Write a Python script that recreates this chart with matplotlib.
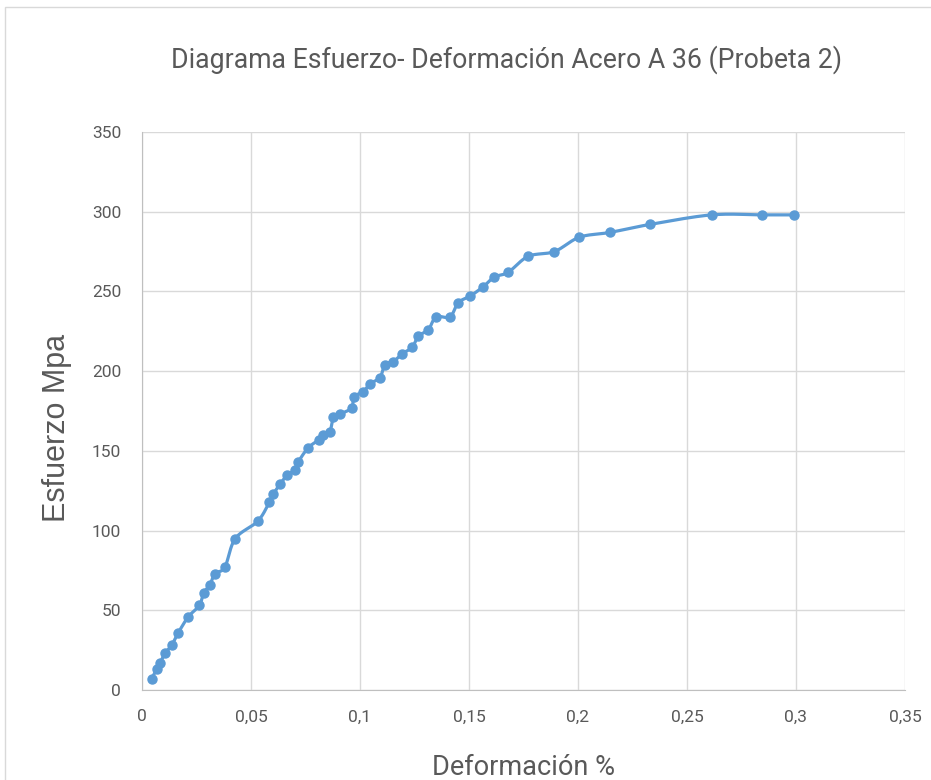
import numpy as np
import matplotlib.pyplot as plt
from matplotlib.ticker import FuncFormatter
from matplotlib.patches import Rectangle

# deformacion (%) y esfuerzo (MPa)
deformacion = [0.0044, 0.0067, 0.0083, 0.0106, 0.0136, 0.0167, 0.0213, 0.0263, 0.0284,
               0.0312, 0.0335, 0.038, 0.0428, 0.0532, 0.0585, 0.0603, 0.0633, 0.0667,
               0.0702, 0.0717, 0.0763, 0.0813, 0.0832, 0.0862, 0.0878, 0.0908, 0.0962,
               0.0972, 0.1015, 0.1046, 0.1092, 0.1114, 0.1153, 0.1195, 0.124, 0.1268,
               0.1314, 0.1349, 0.1413, 0.1451, 0.1505, 0.1566, 0.1616, 0.168, 0.1772,
               0.1892, 0.2007, 0.2147, 0.233, 0.2613, 0.2846, 0.2991]
esfuerzo = [7, 13, 17, 23, 28, 36, 46, 53, 61,
            66, 73, 77, 95, 106, 118, 123, 129, 135,
            138, 143, 152, 157, 160, 162, 171, 173, 177,
            184, 187, 192, 196, 204, 206, 211, 215, 222,
            226, 234, 234, 243, 247, 253, 259, 262, 272,
            275, 284, 287, 292, 298, 298, 298]

titulo = "Diagrama Esfuerzo- Deformación Acero A 36 (Probeta 2)"
xticks = [0, 0.05, 0.1, 0.15, 0.2, 0.25, 0.3, 0.35]
yticks = [0, 50, 100, 150, 200, 250, 300, 350]

plt.rcParams['font.family'] = ['Roboto', 'DejaVu Sans']


def suavizar(x, y, n=20):
    # curva tipo Catmull-Rom para imitar la linea suavizada de Excel
    x = np.asarray(x, float)
    y = np.asarray(y, float)
    px = np.concatenate([[x[0]], x, [x[-1]]])
    py = np.concatenate([[y[0]], y, [y[-1]]])
    xs, ys = [], []
    t = np.linspace(0, 1, n, endpoint=False)
    for i in range(1, len(px) - 2):
        for p, out in ((px, xs), (py, ys)):
            p0, p1, p2, p3 = p[i - 1], p[i], p[i + 1], p[i + 2]
            out.extend(0.5 * ((2 * p1) + (-p0 + p2) * t
                              + (2 * p0 - 5 * p1 + 4 * p2 - p3) * t ** 2
                              + (-p0 + 3 * p1 - 3 * p2 + p3) * t ** 3))
    xs.append(x[-1])
    ys.append(y[-1])
    return xs, ys


fig = plt.figure(figsize=(9.31, 7.8), dpi=100)
ax = fig.add_axes([0.1525, 0.1154, 0.8195, 0.7154])

fig.patches.append(Rectangle((0.005, -0.01), 1.0, 1.001, transform=fig.transFigure,
                             fill=False, edgecolor='#d9d9d9', linewidth=1.0))

color = '#5b9bd5'
sx, sy = suavizar(deformacion, esfuerzo)
ax.plot(sx, sy, '-', color=color, linewidth=2.3, zorder=3)
ax.plot(deformacion, esfuerzo, 'o', color=color, markersize=6.5, zorder=4)

ax.set_xlim(0, 0.35)
ax.set_ylim(0, 350)
ax.set_xticks(xticks)
ax.set_yticks(yticks)
ax.xaxis.set_major_formatter(FuncFormatter(lambda v, p: ('%g' % v).replace('.', ',')))
ax.tick_params(length=0, labelsize=12.5, labelcolor='#595959')
ax.tick_params(axis='x', pad=14)
ax.tick_params(axis='y', pad=15)

ax.grid(True, color='#d9d9d9', linewidth=1.0)
ax.set_axisbelow(True)
for s in ['top', 'right']:
    ax.spines[s].set_visible(False)
for s in ['left', 'bottom']:
    ax.spines[s].set_color('#bfbfbf')

ax.set_title(titulo, fontsize=19.2, color='#595959', pad=46, x=0.478)
ax.set_xlabel("Deformación %", fontsize=19.5, color='#595959', labelpad=21)
ax.set_ylabel("Esfuerzo Mpa", fontsize=22, color='#595959', labelpad=7,
              family=['Liberation Sans', 'DejaVu Sans'])
ax.yaxis.set_label_coords(-0.0917, 0.47)

plt.savefig("out.png", dpi=100)
